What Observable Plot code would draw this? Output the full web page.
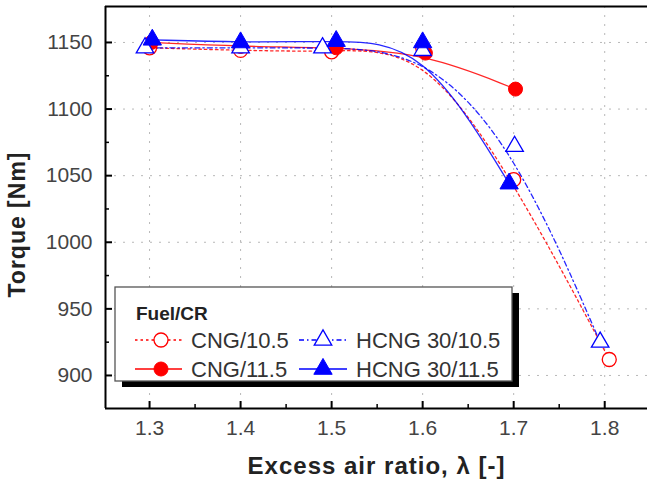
<!DOCTYPE html>
<html><head><meta charset="utf-8">
<script src="https://cdn.jsdelivr.net/npm/d3@7"></script>
<script src="https://cdn.jsdelivr.net/npm/@observablehq/plot@0.6"></script>
<style>body{margin:0;background:#fff;overflow:hidden} svg{display:block}</style>
</head><body><div id="chart"></div><script>
// ---- data ----
const seriesNames = ["CNG/10.5", "CNG/11.5", "HCNG 30/10.5", "HCNG 30/11.5"];
const cng105X = [1.3, 1.4, 1.5, 1.6, 1.7, 1.805];
const cng105Y = [1146, 1144, 1143, 1146, 1047, 912];
const cng115X = [1.302, 1.4, 1.505, 1.603, 1.702];
const cng115Y = [1150, 1147, 1146, 1142, 1115];
const hcng105X = [1.295, 1.4, 1.49, 1.6, 1.701, 1.795];
const hcng105Y = [1146, 1146, 1146, 1144, 1072, 925];
const hcng115X = [1.303, 1.4, 1.505, 1.6, 1.695];
const hcng115Y = [1152, 1150, 1151, 1150, 1044];
const xMajor = [1.3, 1.4, 1.5, 1.6, 1.7, 1.8];
const xMinor = [1.35, 1.45, 1.55, 1.65, 1.75];
const yMajor = [900, 950, 1000, 1050, 1100, 1150];
const yMinor = [925, 975, 1025, 1075, 1125];
const xTitle = "Excess air ratio, λ [-]";
const yTitle = "Torque [Nm]";
const legendTitle = "Fuel/CR";

// ---- styles ----
const FONT = "'Liberation Sans', Arial, sans-serif";
const RED = "#ff0000", BLUE = "#0000ff";
const styles = [
  {name: seriesNames[0], xs: cng105X, ys: cng105Y, color: RED, dash: "2.5,3", symbol: "circle", filled: false, r: 7},
  {name: seriesNames[1], xs: cng115X, ys: cng115Y, color: RED, dash: null, symbol: "circle", filled: true, r: 7},
  {name: seriesNames[2], xs: hcng105X, ys: hcng105Y, color: BLUE, dash: "5,3,1.5,3", symbol: "triangle", filled: false, r: 6.5},
  {name: seriesNames[3], xs: hcng115X, ys: hcng115Y, color: BLUE, dash: null, symbol: "triangle", filled: true, r: 6.8}
];
const xDomain = [1.2516, 1.847];
const yDomain = [875.2, 1177];
const pxY = (yDomain[1] - yDomain[0]) / (408 - 6);
const pxX = (xDomain[1] - xDomain[0]) / (647 - 105);

const marks = [
  Plot.ruleX(xMajor, {x: d => d, stroke: "#b8b8b8", strokeWidth: 1, strokeDasharray: "2,7"}),
  Plot.ruleY(yMajor, {y: d => d, stroke: "#b8b8b8", strokeWidth: 1, strokeDasharray: "2,7"})
];
for (const s of styles) {
  const rows = s.xs.map((x, i) => ({x, y: s.ys[i]}));
  marks.push(Plot.line(rows, {x: "x", y: "y", stroke: s.color, strokeWidth: 1.3, strokeOpacity: 0.85,
    strokeDasharray: s.dash || undefined, curve: "basis"}));
}
for (const s of styles) {
  const rows = s.xs.map((x, i) => ({x, y: s.ys[i]}));
  marks.push(Plot.dot(rows, {x: "x", y: "y", symbol: s.symbol, r: s.r,
    fill: s.filled ? s.color : "white", stroke: s.color, strokeWidth: s.filled ? 1 : 1.3}));
}
// ticks (inward)
marks.push(
  Plot.ruleX(xMajor, {x: d => d, y1: yDomain[0], y2: yDomain[0] + 7 * pxY, stroke: "black", strokeWidth: 2}),
  Plot.ruleX(xMinor, {x: d => d, y1: yDomain[0], y2: yDomain[0] + 4 * pxY, stroke: "black", strokeWidth: 1.5}),
  Plot.ruleY(yMajor, {y: d => d, x1: xDomain[0], x2: xDomain[0] + 7 * pxX, stroke: "black", strokeWidth: 2}),
  Plot.ruleY(yMinor, {y: d => d, x1: xDomain[0], x2: xDomain[0] + 4 * pxX, stroke: "black", strokeWidth: 1.5}),
  // frame (left, bottom, top)
  Plot.ruleX([xDomain[0]], {x: d => d, stroke: "black", strokeWidth: 2}),
  Plot.ruleY([yDomain[0], yDomain[1]], {y: d => d, stroke: "black", strokeWidth: 2}),
  Plot.axisX({ticks: xMajor, tickSize: 0, tickPadding: 12, tickFormat: d3.format(".1f"), fontSize: 21, fill: "#444", label: null}),
  Plot.axisY({ticks: yMajor, tickSize: 0, tickPadding: 13, tickFormat: d => String(d), fontSize: 21, fill: "#444", label: null}),
  Plot.text([xTitle], {text: d => d, frameAnchor: "bottom", dy: 58, fontSize: 24, fontWeight: "bold", fill: "#222", lineAnchor: "middle"}),
  Plot.text([yTitle], {text: d => d, frameAnchor: "left", dx: -88, dy: 17, rotate: -90, fontSize: 23, fontWeight: "bold", fill: "#222", lineAnchor: "middle", textAnchor: "middle"})
);

const plot = Plot.plot({
  width: 647, height: 484,
  marginLeft: 105, marginRight: 0, marginTop: 6, marginBottom: 76,
  x: {domain: xDomain, axis: null},
  y: {domain: yDomain, axis: null},
  style: {fontFamily: FONT, background: "white", overflow: "hidden"},
  marks
});
document.getElementById("chart").appendChild(plot);
// slight letter spacing on the axis titles, as in the reference
d3.select(plot).selectAll("text").filter(function() { return this.textContent === xTitle || this.textContent === yTitle; })
  .attr("letter-spacing", "1px");

// ---- legend ----
const svg = d3.select(plot);
const lg = svg.append("g").attr("font-family", FONT).attr("text-anchor", "start");
const bx = 115, by = 287, bw = 397, bh = 94;
lg.append("rect").attr("x", bx + 7).attr("y", by + 6).attr("width", bw).attr("height", bh).attr("fill", "black");
lg.append("rect").attr("x", bx).attr("y", by).attr("width", bw).attr("height", bh).attr("fill", "white").attr("stroke", "#555").attr("stroke-width", 1.3);
lg.append("text").attr("x", 136).attr("y", 313).attr("dy", "0.35em").attr("font-size", 19).attr("font-weight", "bold").attr("fill", "#222").text(legendTitle);
const cols = [{l0: 135, l1: 182, m: 161, t: 191}, {l0: 299, l1: 347, m: 323, t: 356}];
const rowsY = [340, 369];
const order = [[0, 0, 0], [2, 0, 1], [1, 1, 0], [3, 1, 1]];
for (const [si, ri, ci] of order) {
  const s = styles[si], c = cols[ci], y = rowsY[ri];
  lg.append("line").attr("x1", c.l0).attr("x2", c.l1).attr("y1", y).attr("y2", y)
    .attr("stroke", s.color).attr("stroke-width", 1.3).attr("stroke-dasharray", s.dash);
  const sym = d3.symbol(s.symbol === "circle" ? d3.symbolCircle : d3.symbolTriangle, Math.PI * s.r * s.r);
  lg.append("path").attr("d", sym()).attr("transform", `translate(${c.m},${y})`)
    .attr("fill", s.filled ? s.color : "white").attr("stroke", s.color).attr("stroke-width", s.filled ? 1 : 1.3);
  lg.append("text").attr("x", c.t).attr("y", y).attr("dy", "0.35em").attr("font-size", 22).attr("fill", "#333").text(s.name);
}
</script></body></html>
